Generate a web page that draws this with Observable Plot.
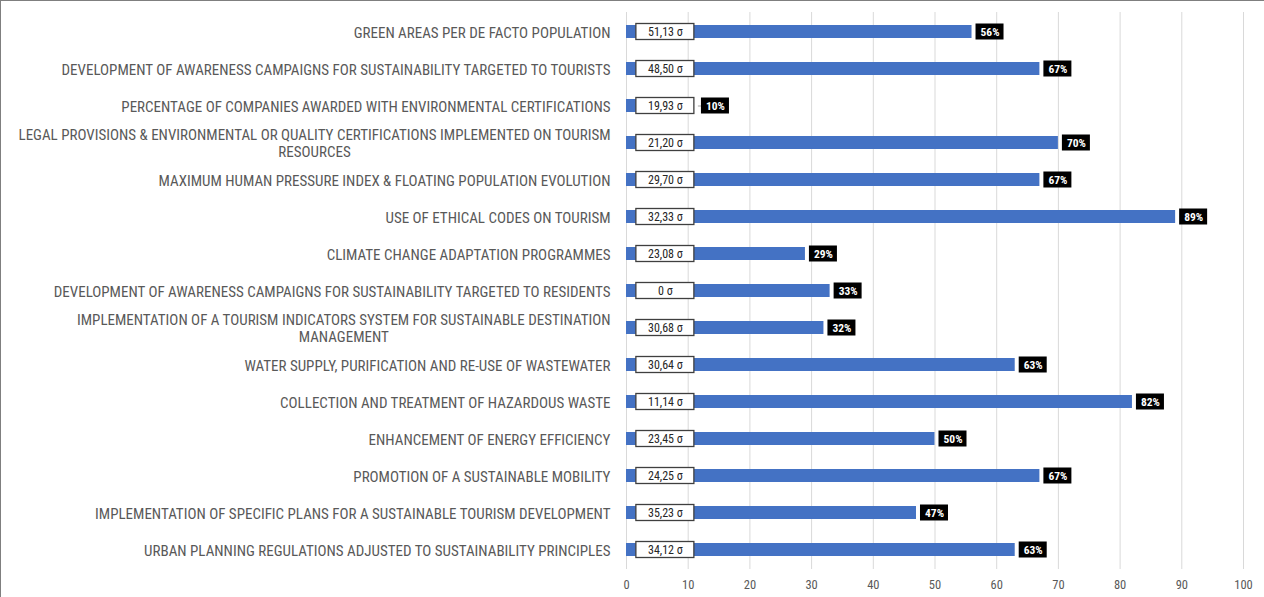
<!DOCTYPE html>
<html>
<head>
<meta charset="utf-8">
<script src="https://cdn.jsdelivr.net/npm/d3@7"></script>
<script src="https://cdn.jsdelivr.net/npm/@observablehq/plot@0.6"></script>
<style>
  html, body { margin: 0; padding: 0; background: #fff; }
  #frame { position: relative; width: 1264px; height: 597px; overflow: hidden; }
  #frame::after { content: ""; position: absolute; inset: 0; border-top: 1px solid #7f7f7f; border-left: 1px solid #7f7f7f; pointer-events: none; }
  #frame svg { display: block; }
</style>
</head>
<body>
<div id="frame"></div>
<script>
// Sustainability indicators, listed top to bottom
const categories = [
  "GREEN AREAS PER DE FACTO POPULATION",
  "DEVELOPMENT OF AWARENESS CAMPAIGNS FOR SUSTAINABILITY TARGETED TO TOURISTS",
  "PERCENTAGE OF COMPANIES AWARDED WITH ENVIRONMENTAL CERTIFICATIONS",
  "LEGAL PROVISIONS & ENVIRONMENTAL OR QUALITY CERTIFICATIONS IMPLEMENTED ON TOURISM RESOURCES",
  "MAXIMUM HUMAN PRESSURE INDEX & FLOATING POPULATION EVOLUTION",
  "USE OF ETHICAL CODES ON TOURISM",
  "CLIMATE CHANGE ADAPTATION PROGRAMMES",
  "DEVELOPMENT OF AWARENESS CAMPAIGNS FOR SUSTAINABILITY TARGETED TO RESIDENTS",
  "IMPLEMENTATION OF A TOURISM INDICATORS SYSTEM FOR SUSTAINABLE DESTINATION MANAGEMENT",
  "WATER SUPPLY, PURIFICATION AND RE-USE OF WASTEWATER",
  "COLLECTION AND TREATMENT OF HAZARDOUS WASTE",
  "ENHANCEMENT OF ENERGY EFFICIENCY",
  "PROMOTION OF A SUSTAINABLE MOBILITY",
  "IMPLEMENTATION OF SPECIFIC PLANS FOR A SUSTAINABLE TOURISM DEVELOPMENT",
  "URBAN PLANNING REGULATIONS ADJUSTED TO SUSTAINABILITY PRINCIPLES"
];

// Share of agreement (%) per indicator
const agreement = [56, 67, 10, 70, 67, 89, 29, 33, 32, 63, 82, 50, 67, 47, 63];

// Standard deviation (σ) per indicator
const sigma = [51.13, 48.50, 19.93, 21.20, 29.70, 32.33, 23.08, 0, 30.68, 30.64, 11.14, 23.45, 24.25, 35.23, 34.12];

// x-axis tick values
const xTicks = [0, 10, 20, 30, 40, 50, 60, 70, 80, 90, 100];

// Extent of the σ badge drawn over the start of each bar
const SIGMA_BOX = {from: 1.6, to: 11.0};

const fmtSigma = v => (v === 0 ? "0" : v.toFixed(2).replace(".", ",")) + " σ";

// Break long category names onto two lines
function wrap(s, limit = 82) {
  if (s.length <= limit) return s;
  const words = s.split(" ");
  let line = "", out = [];
  for (const w of words) {
    const next = line ? line + " " + w : w;
    if (next.length > limit && line) { out.push(line); line = w; }
    else line = next;
  }
  out.push(line);
  return out.join("\n");
}

const rows = categories.map((name, i) => {
  const pct = agreement[i];
  // labels on bars shorter than the σ badge are pushed past it
  const labelX = pct < SIGMA_BOX.to ? SIGMA_BOX.to + 0.5 : pct;
  return {name, pct, sigma: sigma[i], labelX, moved: pct < SIGMA_BOX.to};
});

const font = "'Liberation Sans Narrow', 'Roboto Condensed', 'Open Sans', sans-serif";

const chart = Plot.plot({
  width: 1264,
  height: 597,
  marginLeft: 626,
  marginRight: 21,
  marginTop: 12,
  marginBottom: 28,
  style: {fontFamily: font, color: "#595959", background: "transparent"},
  x: {domain: [0, 100], axis: null},
  y: {domain: categories, paddingInner: 0.65, paddingOuter: 0.325, axis: null},
  marks: [
    Plot.gridX(xTicks, {stroke: "#d9d9d9", strokeOpacity: 1, strokeWidth: 1}),
    Plot.axisX(xTicks, {tickSize: 0, tickPadding: 11, fontSize: 12.5, tickFormat: d => d}),
    Plot.barX(rows, {x: "pct", y: "name", fill: "#4472C4"}),
    // σ badge
    Plot.barX(rows, {
      x1: () => SIGMA_BOX.from, x2: () => SIGMA_BOX.to, y: "name",
      fill: "#ffffff", stroke: "#3f3f3f", strokeWidth: 1.3,
      insetTop: -1.5, insetBottom: -1.5
    }),
    Plot.text(rows, {
      x: () => (SIGMA_BOX.from + SIGMA_BOX.to) / 2, y: "name",
      text: d => fmtSigma(d.sigma), fontSize: 12, fill: "#262626"
    }),
    // leader line for relocated labels
    Plot.ruleY(rows.filter(d => d.moved), {
      x1: () => SIGMA_BOX.to, x2: "labelX", y: "name", stroke: "#a6a6a6", strokeWidth: 1, dx: 4
    }),
    // percentage labels
    Plot.barX(rows, {
      x1: "labelX", x2: "labelX", y: "name", fill: "#000000",
      insetLeft: 4, insetRight: -32, insetTop: -1.5, insetBottom: -1.5
    }),
    Plot.text(rows, {
      x: "labelX", y: "name", text: d => d.pct + "%", dx: 18,
      fill: "#ffffff", fontWeight: "bold", fontSize: 11.5
    }),
    // category names
    Plot.text(rows, {
      y: "name", text: d => wrap(d.name), frameAnchor: "left", textAnchor: "end",
      dx: -16, lineHeight: 1.15, fontSize: 15, fill: "#595959", ariaLabel: "category label"
    })
  ]
});

document.getElementById("frame").append(chart);

// Center the continuation line of wrapped names under the first line
chart.querySelectorAll("text").forEach(t => {
  const spans = t.querySelectorAll("tspan");
  if (spans.length < 2) return;
  const w = spans[0].getComputedTextLength();
  for (let j = 1; j < spans.length; ++j) {
    const wj = spans[j].getComputedTextLength();
    spans[j].setAttribute("x", -(w - wj) / 2);
  }
});
</script>
</body>
</html>
